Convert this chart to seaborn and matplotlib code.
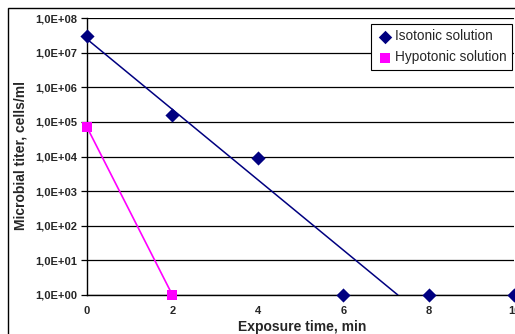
import matplotlib
matplotlib.use("Agg")
import matplotlib.pyplot as plt
from matplotlib.patches import Rectangle
from matplotlib.ticker import FixedLocator, FixedFormatter
import seaborn as sns
import pandas as pd

# ---- data ----
iso_time = [0, 2, 4, 6, 8, 10]
iso_titer = [3.0e7, 1.6e5, 9.0e3, 1.0, 1.0, 1.0]
hypo_time = [0, 2]
hypo_titer = [7.0e4, 1.0]
trend_time = [0, 7.28]
trend_titer = [2.45e7, 1.0]
x_ticks = [0, 2, 4, 6, 8, 10]
y_ticks = [1e0, 1e1, 1e2, 1e3, 1e4, 1e5, 1e6, 1e7, 1e8]
y_tick_labels = ["1,0E+00", "1,0E+01", "1,0E+02", "1,0E+03", "1,0E+04",
                 "1,0E+05", "1,0E+06", "1,0E+07", "1,0E+08"]
series_names = ["Isotonic solution", "Hypotonic solution"]

iso_df = pd.DataFrame({"t": iso_time, "v": iso_titer})
hypo_df = pd.DataFrame({"t": hypo_time, "v": hypo_titer})
trend_df = pd.DataFrame({"t": trend_time, "v": trend_titer})

sns.set_style("white")
plt.rcParams["font.family"] = ["Liberation Sans", "DejaVu Sans"]

fig = plt.figure(figsize=(5.15, 3.34), dpi=100)
W, H = 515, 334
ax = fig.add_axes([87 / W, 1 - 295 / H, (514 - 87) / W, (295 - 18) / H])
ax.set_yscale("log")
ax.set_xlim(0, 10)
ax.set_ylim(1, 1e8)

navy = "#000080"
magenta = "#FF00FF"

# grid lines
for yv in y_ticks:
    ax.axhline(yv, color="black", lw=0.9, zorder=1)

sns.lineplot(data=trend_df, x="t", y="v", ax=ax, color=navy, lw=1.1,
             zorder=3, legend=False)
sns.lineplot(data=hypo_df, x="t", y="v", ax=ax, color=magenta, lw=1.2,
             zorder=3, legend=False)
sns.scatterplot(data=iso_df, x="t", y="v", ax=ax, marker="D", s=52,
                color=navy, edgecolor=navy, linewidth=0, zorder=5,
                label=series_names[0], clip_on=False)
sns.scatterplot(data=hypo_df, x="t", y="v", ax=ax, marker="s", s=58,
                color=magenta, edgecolor=magenta, linewidth=0, zorder=5,
                label=series_names[1], clip_on=False)

ax.yaxis.set_major_locator(FixedLocator(y_ticks))
ax.yaxis.set_major_formatter(FixedFormatter(y_tick_labels))
ax.yaxis.set_minor_locator(FixedLocator([]))
ax.set_xticks(x_ticks)
ax.set_xticklabels([str(v) for v in x_ticks])

ax.tick_params(axis="y", which="major", left=True, length=4, width=0.9,
               color="black", direction="out", pad=3, labelsize=8)
ax.tick_params(axis="x", which="major", bottom=False, length=0, pad=8,
               labelsize=8)
for lab in ax.get_xticklabels() + ax.get_yticklabels():
    lab.set_fontweight("bold")

for side in ["top", "right"]:
    ax.spines[side].set_visible(False)
for side in ["left", "bottom"]:
    ax.spines[side].set_color("black")
    ax.spines[side].set_linewidth(1.0)

ax.set_xlabel("Exposure time, min", fontsize=10, fontweight="bold")
ax.set_ylabel("Microbial titer, cells/ml", fontsize=10, fontweight="bold")
ax.xaxis.set_label_coords((302 - 87) / 427, -(327 - 295) / 277)
ax.xaxis.label.set_va("center")
ax.yaxis.set_label_coords(-(87 - 21) / 427, (295 - 155) / 277)
ax.yaxis.label.set_va("center")

leg = ax.legend(loc="upper right", bbox_to_anchor=((512 - 87) / 427, (295 - 24) / 277),
                frameon=True, fancybox=False, shadow=False, fontsize=9.8,
                handletextpad=0.05, handlelength=1.3, borderpad=0.4,
                labelspacing=0.5, borderaxespad=0, markerscale=0.95)
leg.get_frame().set_edgecolor("black")
leg.get_frame().set_linewidth(0.8)
leg.get_frame().set_facecolor("white")
leg.get_frame().set_alpha(1)
leg.set_zorder(10)

# outer chart-area border
fig.patches.append(Rectangle((8 / W, -0.1), 1.2, (1 - 8 / H) + 0.1,
                             transform=fig.transFigure, fill=False,
                             edgecolor="black", lw=1.0, zorder=0))

fig.savefig("out.png", dpi=100)
